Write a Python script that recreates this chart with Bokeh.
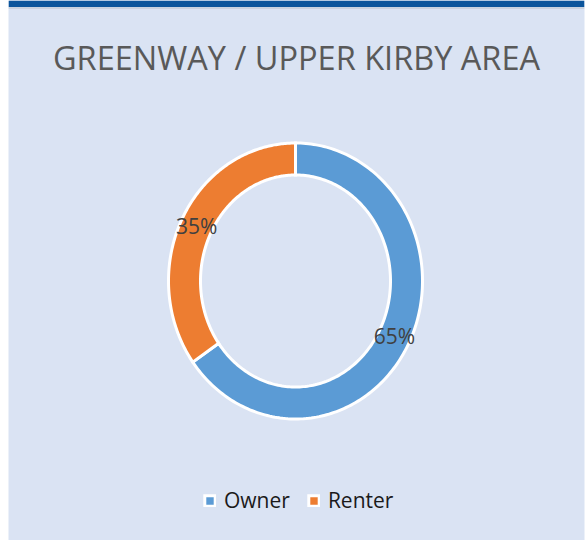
import numpy as np
from bokeh.plotting import figure
from bokeh.models import ColumnDataSource, Range1d, Legend, LegendItem
from bokeh.core.properties import value
from bokeh.embed import file_html
from bokeh.resources import INLINE

# ---- data ----
title_text = "GREENWAY / UPPER KIRBY AREA"
categories = ["Owner", "Renter"]
shares = [65, 35]
colors = ["#5B9BD5", "#ED7D31"]

FW, H = 576, 540      # chart frame size
PAD_L, PAD_R = 8, 4   # white page strip around the chart
BG = "#DAE3F3"

p = figure(width=FW + PAD_L + PAD_R, height=H, output_backend="svg", toolbar_location=None,
           x_range=Range1d(0, FW), y_range=Range1d(0, H),
           min_border=0, min_border_left=PAD_L, min_border_right=PAD_R,
           background_fill_color=BG, border_fill_color="white", outline_line_color=None)
p.axis.visible = False
p.grid.visible = False

# top banner
p.quad(left=[0], right=[FW], bottom=[533.5], top=[H], fill_color="#0B559C", line_color=None)
p.quad(left=[0], right=[FW], bottom=[531.5], top=[533.5], fill_color="#C9D2DF", line_color=None)

# title
p.text(x=[FW / 2], y=[483], text=[title_text], text_font=value("Open Sans"),
       text_font_size="32.5px", text_color="#595959", text_align="center",
       text_baseline="middle")

# donut (slightly elliptical, as in the reference)
cx, cy = 287.0, 259.5
rx_out, ry_out = 127.0, 138.0
rx_in, ry_in = 95.0, 106.0

total = float(sum(shares))
fr = np.array(shares) / total
cum = np.concatenate([[0], np.cumsum(fr)])
xs, ys, lx, ly, labels = [], [], [], [], []
for i in range(len(shares)):
    a0 = cum[i] * 2 * np.pi
    a1 = cum[i + 1] * 2 * np.pi
    t = np.linspace(a0, a1, 200)
    ox = cx + rx_out * np.sin(t)
    oy = cy + ry_out * np.cos(t)
    ix = cx + rx_in * np.sin(t[::-1])
    iy = cy + ry_in * np.cos(t[::-1])
    xs.append(list(np.concatenate([ox, ix])))
    ys.append(list(np.concatenate([oy, iy])))
    am = (a0 + a1) / 2
    lx.append(cx + (rx_out + rx_in) / 2 * np.sin(am))
    ly.append(cy + (ry_out + ry_in) / 2 * np.cos(am))
    labels.append(f"{shares[i]}%")

src = ColumnDataSource(dict(xs=xs, ys=ys, color=colors, cat=categories))
r = p.patches("xs", "ys", source=src, fill_color="color", line_color="white",
              line_width=3, line_join="miter")

p.text(x=lx, y=ly, text=labels, text_font=value("Open Sans"), text_font_size="21px",
       text_color="#404040", text_align="center", text_baseline="middle")

# legend
items = [LegendItem(label=categories[i], renderers=[r], index=i) for i in range(len(categories))]
legend = Legend(items=items, orientation="horizontal", location=(195, 26),
                glyph_width=13, glyph_height=13, label_standoff=8, spacing=17,
                label_text_font="Open Sans", label_text_font_size="21px",
                label_text_color="#1A1A1A", padding=0, margin=0,
                background_fill_alpha=0, border_line_alpha=0)
p.add_layout(legend, "center")

open("out.html", "w").write(file_html(p, INLINE))
